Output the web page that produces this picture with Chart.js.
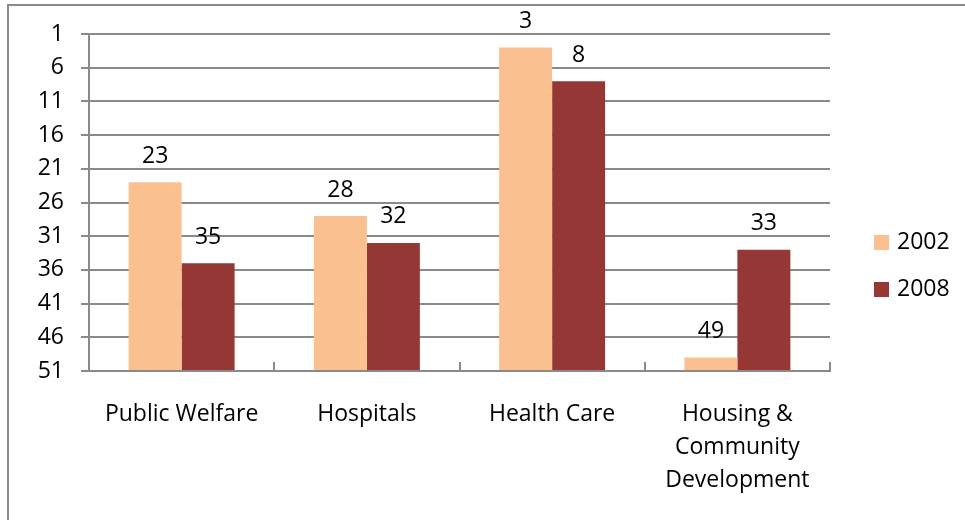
<!DOCTYPE html>
<html>
<head>
<meta charset="utf-8">
<title>Rank chart</title>
<script src="https://cdn.jsdelivr.net/npm/chart.js@4"></script>
<style>
    body{ margin:0; background:#fff; overflow:hidden; }
    .frame{
        position:absolute; left:7px; top:4px;
        width:980px; height:540px;
        border-top:2px solid #8a8a8a;
        border-left:2px solid #8a8a8a;
    }
    .wrap{ position:absolute; left:0; top:0; width:965px; height:520px; }
</style>
</head>
<body>
<div class="frame"></div>
<div class="wrap"><canvas id="myChart" width="965" height="520"></canvas></div>
<script>

    // categories and values (rank, 1 = top)
    const categories = ['Public Welfare', 'Hospitals', 'Health Care', ['Housing &', 'Community', 'Development']]
    const years = ['2002', '2008']
    const rank2002 = [23, 28, 3, 49]
    const rank2008 = [35, 32, 8, 33]
    const yTicks = [1, 6, 11, 16, 21, 26, 31, 36, 41, 46, 51]

    const colors = ['#FAC090', '#953735']
    const FONT = '"Open Sans", Calibri, "Liberation Sans", sans-serif'
    const FSIZE = 23
    const gridColor = '#8a8a8a'

    const labelsPlugin = {
        id: 'barLabels',
        afterDatasetsDraw(chart){
            const ctx = chart.ctx
            ctx.save()
            ctx.font = FSIZE + 'px ' + FONT
            ctx.fillStyle = '#000'
            ctx.textAlign = 'center'
            ctx.textBaseline = 'middle'
            chart.data.datasets.forEach((ds, i) => {
                const meta = chart.getDatasetMeta(i)
                meta.data.forEach((bar, j) => {
                    ctx.fillText(ds.data[j], bar.x, bar.y - 26)
                })
            })
            ctx.restore()
        },
        afterDraw(chart){
            const ctx = chart.ctx
            const xs = chart.scales.x
            const area = chart.chartArea
            ctx.save()
            // category separator ticks (pointing up, inside)
            ctx.strokeStyle = gridColor
            ctx.lineWidth = 2
            for(let i=0; i<categories.length; i++){
                const x = Math.round(xs.getPixelForValue(i + 0.5))
                ctx.beginPath()
                ctx.moveTo(x, area.bottom)
                ctx.lineTo(x, area.bottom - 9)
                ctx.stroke()
            }
            // legend
            ctx.font = FSIZE + 'px ' + FONT
            ctx.textAlign = 'left'
            ctx.textBaseline = 'middle'
            chart.data.datasets.forEach((ds, i) => {
                const cy = 242 + i * 47
                const lx = area.right + 44
                ctx.fillStyle = ds.backgroundColor
                ctx.fillRect(lx, cy - 7, 15, 15)
                ctx.fillStyle = '#000'
                ctx.fillText(ds.label, lx + 23, cy)
            })
            ctx.restore()
        }
    }

    const ctx = document.getElementById('myChart')

    const chart = new Chart(ctx, {
        type: 'bar',
        data: {
            labels: categories,
            datasets: [
                { label: years[0], data: rank2002, backgroundColor: colors[0], base: 51 },
                { label: years[1], data: rank2008, backgroundColor: colors[1], base: 51 }
            ]
        },
        options: {
            responsive: false,
            animation: false,
            devicePixelRatio: 1,
            datasets: { bar: { categoryPercentage: 0.572, barPercentage: 1 } },
            layout: { padding: { left: 0, top: 34, right: 135, bottom: 0 } },
            plugins: {
                legend: { display: false },
                tooltip: { enabled: false }
            },
            scales: {
                y: {
                    reverse: true,
                    min: 1,
                    max: 51,
                    afterBuildTicks(scale){ scale.ticks = yTicks.map(v => ({ value: v })) },
                    afterFit(scale){ scale.width = 89 },
                    ticks: { color: '#000', font: { size: FSIZE, family: FONT }, padding: 17 },
                    grid: { color: gridColor, lineWidth: 2, tickLength: 8 },
                    border: { color: gridColor, width: 2 }
                },
                x: {
                    afterFit(scale){ scale.height = 149 },
                    ticks: { color: '#000', font: { size: FSIZE, family: FONT, lineHeight: 1.43 }, padding: 19, maxRotation: 0, autoSkip: false },
                    grid: { display: false },
                    border: { color: gridColor, width: 2 }
                }
            }
        },
        plugins: [labelsPlugin]
    })

</script>
</body>
</html>
